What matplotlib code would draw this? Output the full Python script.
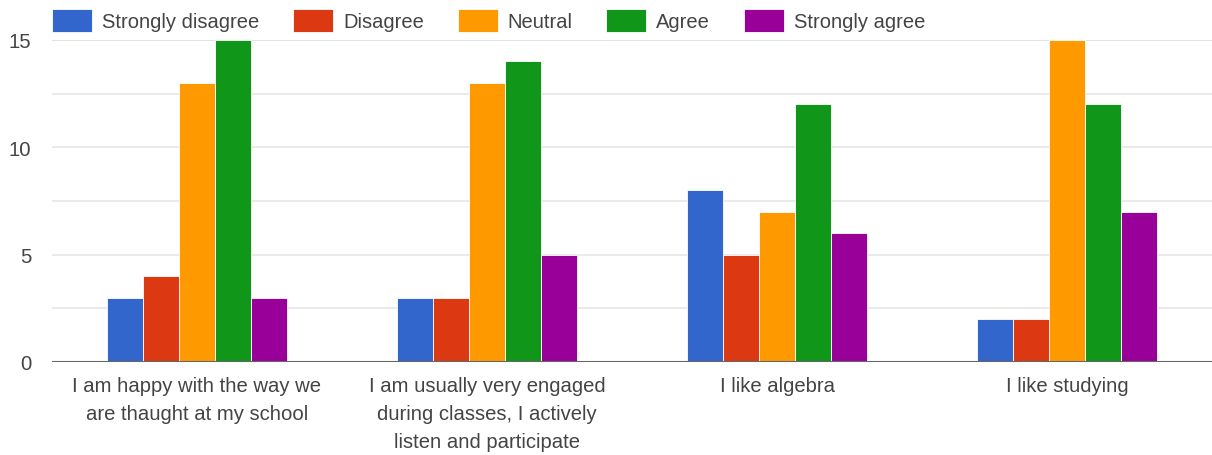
import matplotlib.pyplot as plt
import numpy as np

plt.rcParams['font.family'] = ['Liberation Sans', 'DejaVu Sans']

questions = [
    "I am happy with the way we\nare thaught at my school",
    "I am usually very engaged\nduring classes, I actively\nlisten and participate",
    "I like algebra",
    "I like studying",
]
answers = ["Strongly disagree", "Disagree", "Neutral", "Agree", "Strongly agree"]
strongly_disagree = [3, 3, 8, 2]
disagree = [4, 3, 5, 2]
neutral = [13, 13, 7, 15]
agree = [15, 14, 12, 12]
strongly_agree = [3, 5, 6, 7]
series = [strongly_disagree, disagree, neutral, agree, strongly_agree]
colors = ["#3366CC", "#DC3912", "#FF9900", "#109618", "#990099"]

fig = plt.figure(figsize=(12.12, 4.56), dpi=100)
ax = fig.add_axes([52 / 1212, 1 - 363 / 456, 1 - 52 / 1212, (363 - 41) / 456])

x = np.arange(len(questions))
width = 0.124
for i, (vals, col, name) in enumerate(zip(series, colors, answers)):
    ax.bar(x + (i - 2) * width, vals, width, color=col, label=name,
           edgecolor="white", linewidth=0.6, zorder=3)

ax.set_xlim(-0.5, len(questions) - 0.5)
ax.set_ylim(0, 15)
ax.set_yticks([0, 5, 10, 15])
ax.set_yticks([2.5, 7.5, 12.5], minor=True)
ax.grid(axis="y", which="both", color="#e6e6e6", linewidth=1.2, zorder=0)
ax.axhline(15, color="#cccccc", linewidth=1.2, zorder=1)
ax.axhline(0, color="#666666", linewidth=1.5, zorder=4)
for s in ax.spines.values():
    s.set_visible(False)
ax.tick_params(axis="both", which="both", length=0, labelsize=14.6, colors="#444444")
ax.tick_params(axis="y", pad=15)
ax.tick_params(axis="x", pad=10)
ax.set_xticks(x)
ax.set_xticklabels(questions, linespacing=1.62)

fig.legend(loc="upper left", bbox_to_anchor=(52 / 1212, 1 - 10 / 456), ncol=5,
           frameon=False, fontsize=14.5, labelcolor="#444444",
           handlelength=1.98, handleheight=1.35, handletextpad=0.5,
           columnspacing=1.68, borderaxespad=0, borderpad=0)

fig.savefig("out.png", dpi=100)
